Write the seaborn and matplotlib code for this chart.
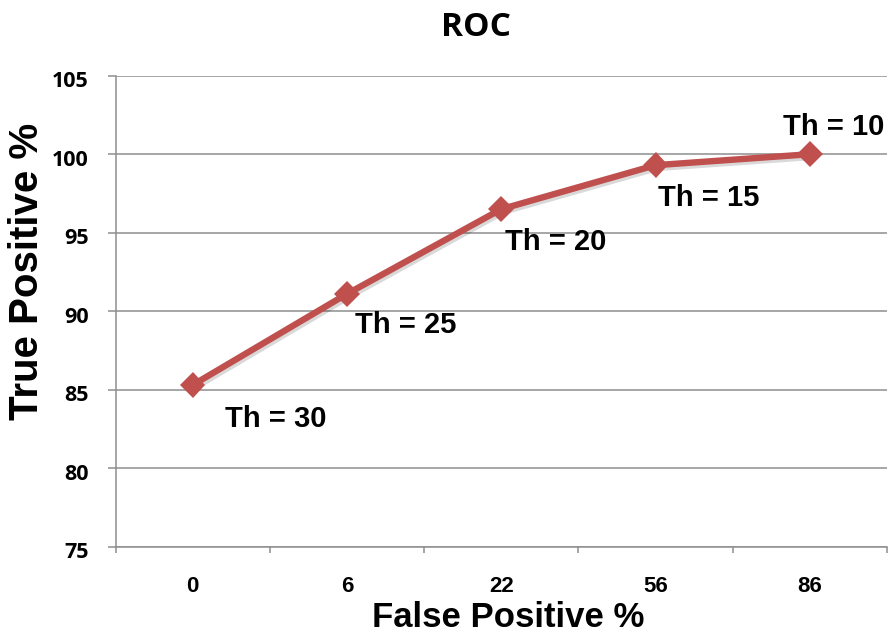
import matplotlib
matplotlib.use("Agg")
import matplotlib.pyplot as plt
import matplotlib.patheffects as pe
from matplotlib.ticker import FixedLocator
from matplotlib.transforms import ScaledTranslation
import pandas as pd
import seaborn as sns

# ROC operating points: false-positive rate categories vs true-positive rate
fp_labels = ["0", "6", "22", "56", "86"]
tp_values = [85.3, 91.1, 96.5, 99.3, 100.0]
thresholds = ["Th = 30", "Th = 25", "Th = 20", "Th = 15", "Th = 10"]
y_ticks = [75, 80, 85, 90, 95, 100, 105]

# label placement relative to each point, in pixels
label_offsets = [(32, -42), (8, -39), (4, -41), (2, -41), (-27, 19)]

df = pd.DataFrame({"fp": fp_labels, "tp": tp_values})

sns.set_theme(style="white")
line_color = "#C0504D"
grid_color = "#8e8e8e"

fig = plt.figure(figsize=(8.91, 6.35), dpi=100)
ax = fig.add_axes([115.5 / 891, 1 - 546.7 / 635, (887 - 115.5) / 891, (546.7 - 75.7) / 635])

sns.pointplot(data=df, x="fp", y="tp", order=fp_labels, errorbar=None,
              color=line_color, markers="D", markersize=13, linewidth=4.6,
              ax=ax)
for ln in ax.lines:
    ln.set_markeredgewidth(0)
    ln.set_path_effects([pe.SimpleLineShadow(offset=(1.2, -2), shadow_color="black", alpha=0.15),
                         pe.Normal()])

# axes limits and ticks
ax.set_xlim(-0.5, len(fp_labels) - 0.5)
ax.set_ylim(y_ticks[0], y_ticks[-1])
ax.set_yticks(y_ticks, labels=[str(v) for v in y_ticks], fontsize=15.5,
              fontweight="bold", fontfamily="Open Sans", color="black")
ax.set_xticks(range(len(fp_labels)), labels=fp_labels, fontsize=16,
              fontweight="bold", fontfamily="Liberation Sans", color="black")
ax.xaxis.set_minor_locator(FixedLocator([i - 0.5 for i in range(len(fp_labels) + 1)]))

ax.yaxis.grid(True, color=grid_color, linewidth=1.1)
ax.xaxis.grid(False)
ax.set_axisbelow(True)
for side in ["top", "right"]:
    ax.spines[side].set_visible(False)
for side in ["left", "bottom"]:
    ax.spines[side].set_color(grid_color)
    ax.spines[side].set_linewidth(1.1)

ax.tick_params(axis="y", which="major", direction="out", length=5.8, width=1.1,
               color=grid_color, pad=13.5, left=True)
ax.tick_params(axis="x", which="major", length=0, pad=21)
ax.tick_params(axis="x", which="minor", direction="out", length=4.3, width=1.1,
               color=grid_color, bottom=True)

# y tick labels sit a little below their gridlines
shift = ScaledTranslation(0, -3.5 / 100, fig.dpi_scale_trans)
for lbl in ax.get_yticklabels():
    lbl.set_transform(lbl.get_transform() + shift)

ax.set_xlabel("")
ax.set_ylabel("")

# threshold annotations
for i, (txt, off) in enumerate(zip(thresholds, label_offsets)):
    ax.annotate(txt, xy=(i, tp_values[i]), xytext=off, textcoords="offset pixels",
                ha="left", va="baseline", fontsize=21, fontweight="bold",
                family="Liberation Sans", color="black")

fig.text(476 / 891, 1 - 36 / 635, "ROC", ha="center", va="baseline",
         fontsize=24, fontweight="bold", family="Open Sans", color="black")
fig.text(508 / 891, 1 - 627 / 635, "False Positive %", ha="center", va="baseline",
         fontsize=25, fontweight="bold", family="Liberation Sans", color="black")
fig.text(27 / 891, 1 - 271 / 635, "True Positive %", ha="center", va="center",
         rotation=90, fontsize=29, fontweight="bold", family="Liberation Sans",
         color="black")

fig.savefig("out.png", dpi=100, facecolor="white")
